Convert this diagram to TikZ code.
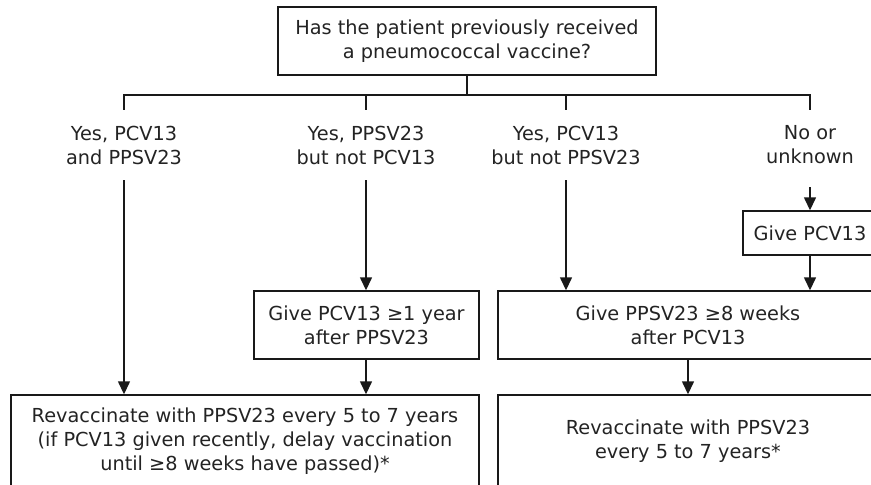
\documentclass[tikz,border=0pt]{standalone}
\usepackage{fontspec}
\setmainfont{DejaVu Sans}
\usepackage{tikz}
\usetikzlibrary{positioning,arrows.meta}
\definecolor{flowline}{RGB}{25,25,25}
\definecolor{flowtext}{RGB}{35,35,35}

\begin{document}
\begin{tikzpicture}[x=1pt,y=-1pt,
    every node/.style={font=\fontsize{19.3}{24}\selectfont,text=flowtext,align=center,inner sep=0pt},
    box/.style={draw=flowline,line width=1.4pt},
    lbl/.style={minimum height=70pt},
    arr/.style={-{Triangle[width=12pt,length=13pt]},line width=1.4pt,draw=flowline}]
        \useasboundingbox (0,0) rectangle (871,485);
        \clip (0,0) rectangle (871,485);
        \node[box,minimum width=378pt,minimum height=68pt] (ask) at (467,41) {Has the patient previously received\\a pneumococcal vaccine?};
        \coordinate (bar) at (467,95);
        \node[lbl] (both) at (124,145) {Yes, PCV13\\and PPSV23};
        \node[lbl] (ppsvonly) at (366,145) {Yes, PPSV23\\but not PCV13};
        \node[lbl] (pcvonly) at (566,145) {Yes, PCV13\\but not PPSV23};
        \node[lbl] (none) at (810,145) {No or\\unknown};
        \node[box,minimum width=134pt,minimum height=44pt] (givepcv) at (810,233) {Give PCV13};
        \node[box,minimum width=225pt,minimum height=68pt] (pcvlater) at (366.5,325) {Give PCV13 ≥1 year\\after PPSV23};
        \node[box,minimum width=380pt,minimum height=68pt] (ppsvlater) at (688,325) {Give PPSV23 ≥8 weeks\\after PCV13};
        \node[box,minimum width=468pt,minimum height=92pt] (revacl) at (245,441) {Revaccinate with PPSV23 every 5 to 7 years\\(if PCV13 given recently, delay vaccination\\until ≥8 weeks have passed)*};
        \node[box,minimum width=380pt,minimum height=92pt] (revacr) at (688,441) {Revaccinate with PPSV23\\every 5 to 7 years*};
        \draw[line width=1.4pt,flowline] (ask.south) -- (bar);
        \draw[line width=1.4pt,flowline] (both.north) -- (both.north |- bar) -- (none.north |- bar) -- (none.north);
        \draw[line width=1.4pt,flowline] (ppsvonly.north |- bar) -- (ppsvonly.north);
        \draw[line width=1.4pt,flowline] (pcvonly.north |- bar) -- (pcvonly.north);
        \draw[arr] (both.south) -- (both.south |- revacl.north);
        \draw[arr] (ppsvonly.south) -- (pcvlater.north -| ppsvonly.south);
        \draw[arr] (pcvlater.south -| ppsvonly.south) -- (ppsvonly.south |- revacl.north);
        \draw[arr] (pcvonly.south) -- (pcvonly.south |- ppsvlater.north);
        \draw[arr,shorten <=7pt] (none.south) -- (givepcv.north);
        \draw[arr] (givepcv.south) -- (givepcv.south |- ppsvlater.north);
        \draw[arr] (ppsvlater.south) -- (revacr.north);
      \end{tikzpicture}
\end{document}
